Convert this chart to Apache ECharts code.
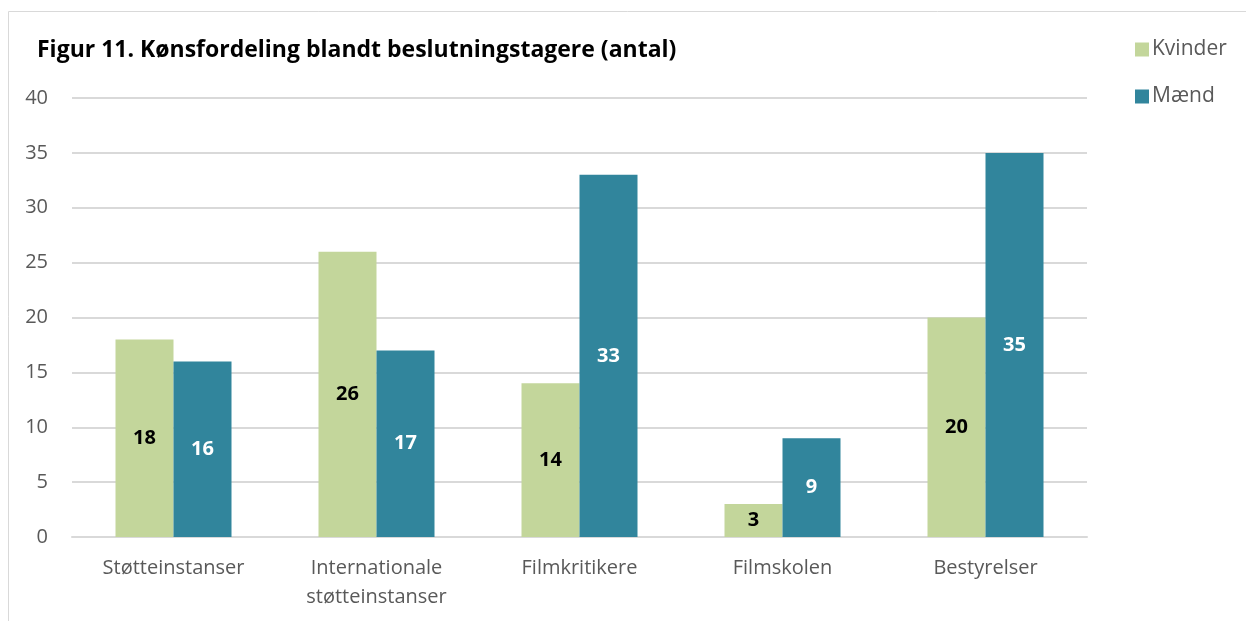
<!DOCTYPE html>
<html>
<head>
<meta charset="utf-8">
<script src="https://cdn.jsdelivr.net/npm/echarts@6/dist/echarts.min.js"></script>
<style>
    html,body{margin:0;padding:0;background:#fff;}
    #chart{width:1246px;height:621px;}
</style>
</head>
<body>
<div id="chart"></div>
<script>
    var categories = ['Støtteinstanser', 'Internationale\nstøtteinstanser', 'Filmkritikere', 'Filmskolen', 'Bestyrelser'];
    var kvinder = [18, 26, 14, 3, 20];
    var maend = [16, 17, 33, 9, 35];

    var fnt = '"Open Sans", sans-serif';
    var chart = echarts.init(document.getElementById('chart'));
    chart.setOption({
        animation: false,
        graphic: [{
            type: 'rect',
            shape: {x: 8.5, y: 11.5, width: 1300, height: 700},
            style: {fill: 'none', stroke: '#d9d9d9', lineWidth: 1}
        }],
        title: {
            text: 'Figur 11. Kønsfordeling blandt beslutningstagere (antal)',
            left: 32, top: 34,
            textStyle: {fontFamily: fnt, fontSize: 23, fontWeight: 'bold', color: '#000'}
        },
        legend: {
            orient: 'vertical',
            left: 1130, top: 34,
            itemWidth: 14, itemHeight: 14, itemGap: 26,
            icon: 'rect',
            textStyle: {fontFamily: fnt, fontSize: 21, color: '#595959', padding: [0, 0, 0, -2]},
            data: ['Kvinder', 'Mænd']
        },
        grid: {left: 72, right: 159, top: 98, bottom: 84},
        xAxis: {
            type: 'category',
            data: categories,
            axisLine: {lineStyle: {color: '#d9d9d9', width: 2}},
            axisTick: {show: false},
            axisLabel: {fontFamily: fnt, fontSize: 20, color: '#595959', margin: 17, lineHeight: 29}
        },
        yAxis: {
            type: 'value',
            min: 0, max: 40, interval: 5,
            axisLine: {show: false},
            axisTick: {show: false},
            splitLine: {lineStyle: {color: '#d9d9d9', width: 2}},
            axisLabel: {fontFamily: fnt, fontSize: 20, color: '#595959', margin: 24}
        },
        series: [{
            name: 'Kvinder',
            type: 'bar',
            data: kvinder,
            barWidth: 58,
            barGap: '0%',
            itemStyle: {color: '#c3d69b'},
            label: {show: true, position: 'inside', fontFamily: fnt, fontSize: 20, fontWeight: 'bold', color: '#000'}
        }, {
            name: 'Mænd',
            type: 'bar',
            data: maend,
            barWidth: 58,
            itemStyle: {color: '#31859c'},
            label: {show: true, position: 'inside', fontFamily: fnt, fontSize: 20, fontWeight: 'bold', color: '#fff'}
        }]
    });
</script>
</body>
</html>
